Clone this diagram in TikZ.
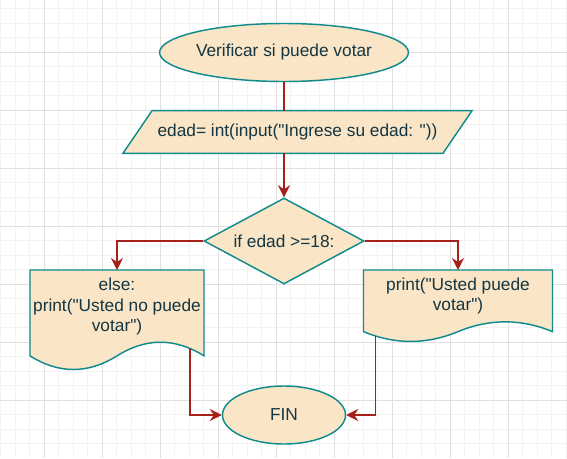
\documentclass[tikz,border=0pt]{standalone}
\usepackage{fontspec}
\setmainfont{Liberation Sans}[Ligatures=TeXOff]
\usepackage{tikz}
\usetikzlibrary{shapes.geometric}
\usetikzlibrary{arrows.meta}
\definecolor{boxfill}{HTML}{FAE5C7}
\definecolor{boxline}{HTML}{0F8B8D}
\definecolor{linkred}{HTML}{A8201A}
\definecolor{txt}{HTML}{143642}
\tikzstyle{box} = [fill=boxfill, draw=boxline, line width=1.45pt, text=txt, inner sep=0pt]
\tikzstyle{startstop} = [box, ellipse, minimum height=58pt]
\tikzstyle{decision} = [box, diamond, aspect=1.86, minimum width=160pt, minimum height=86pt]
\tikzstyle{doc} = [fill=boxfill, draw=boxline, line width=1.45pt]
\tikzstyle{arrow} = [draw=linkred, line width=1.5pt, -{Stealth[length=12pt, width=12pt, inset=4pt]}]

\begin{document}
\begin{tikzpicture}[x=1pt, y=-1pt, font=\fontsize{17.3}{20.5}\selectfont]
\useasboundingbox (0,0) rectangle (567,458);
\fill[white] (0,0) rectangle (567,458);

% grid
\foreach \k in {0,...,39}
  \draw[color=black!5, line width=0.7pt] (0.8+14.5*\k,0) -- (0.8+14.5*\k,458);
\foreach \k in {0,...,30}
  \draw[color=black!5, line width=0.7pt] (0,8.8+14.5*\k) -- (567,8.8+14.5*\k);
\foreach \k in {0,...,8}
  \draw[color=black!12, line width=0.8pt] (44.3+58*\k,0) -- (44.3+58*\k,458);
\foreach \k in {0,...,6}
  \draw[color=black!12, line width=0.8pt] (0,52.3+58*\k) -- (567,52.3+58*\k);

% shapes
\node (start) [startstop, minimum width=247pt] at (284,52.5) {Verificar si puede votar};

%\draw (input)
\draw[doc] (152,110.7) -- (472,110.7) -- (443,153.3) -- (123,153.3) -- cycle;
\node (in1) [text=txt] at (297.5,132) {edad= int(input("Ingrese su edad: "))};
\coordinate (in1top) at (284,110.7);
\coordinate (in1bot) at (284,153.3);

\node (dec1) [decision] at (284,241) {if edad >=18:};
\node (fin) [startstop, minimum width=123pt] at (284,415) {FIN};

%\draw (left doc)
\draw[doc] (30,270) -- (204,270) -- (204,355.85)
  .. controls (175,337.67) and (146,337.67) .. (117,355.85)
  .. controls (88,374.03) and (59,374.03) .. (30,355.85) -- cycle;
\node (no) [text=txt, align=center] at (117,307) {else:\\print("Usted no puede\\votar")};
\coordinate (noin) at (117,270);
\coordinate (noout) at (190,349);

%\draw (right doc)
\draw[doc] (363.5,270) -- (552.5,270) -- (552.5,331.6)
  .. controls (521,318.6) and (489.5,318.6) .. (458,331.6)
  .. controls (426.5,344.7) and (395,344.7) .. (363.5,331.6) -- cycle;
\node (yes) [text=txt, align=center] at (458,296) {print("Usted puede\\votar")};
\coordinate (yesin) at (458,270);
\coordinate (yesout) at (375.7,336);

% links
\draw[draw=linkred, line width=1.5pt] (start.south) -- (in1top);
\draw[arrow] (in1bot) -- (dec1.north);
\draw[arrow] (dec1.west) -| (noin);
\draw[arrow] (dec1.east) -| (yesin);
\draw[arrow] (noout) |- (fin.west);
\draw[arrow] (yesout) |- (fin.east);
\end{tikzpicture}
\end{document}
